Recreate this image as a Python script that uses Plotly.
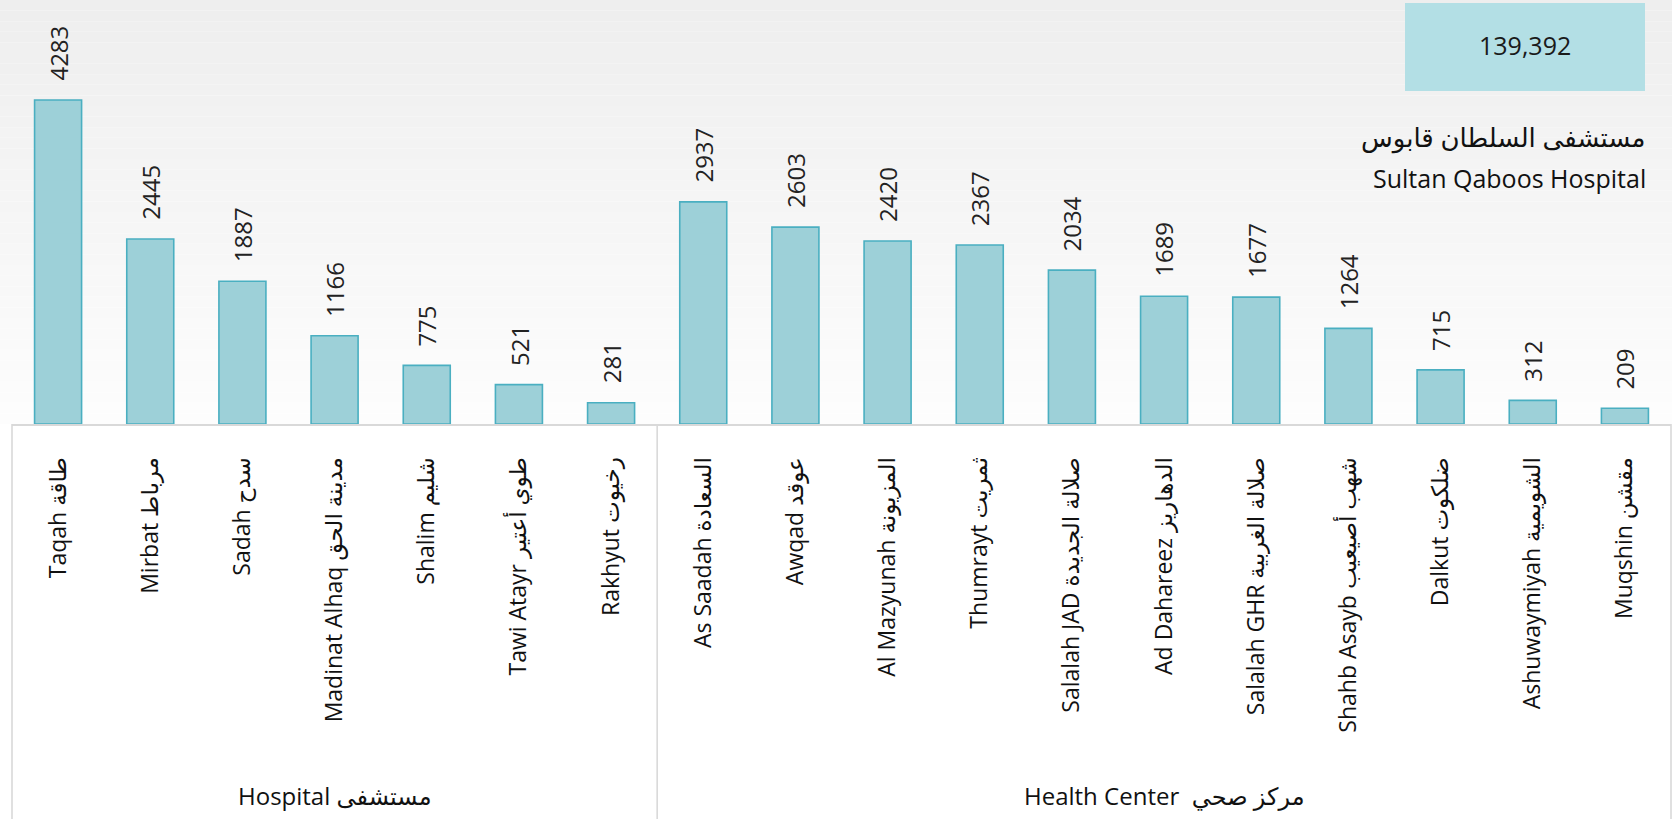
import plotly.graph_objects as go

# ---------------- data ----------------
hospital_en = ["Taqah", "Mirbat", "Sadah", "Madinat Alhaq", "Shalim", "Tawi Atayr", "Rakhyut"]
hospital_ar = ["طاقة", "مرباط", "سدح", "مدينة الحق", "شليم", "طوي أعتير", "رخيوت"]
hospital_values = [4283, 2445, 1887, 1166, 775, 521, 281]

center_en = ["As Saadah", "Awqad", "Al Mazyunah", "Thumrayt", "Salalah JAD", "Ad Dahareez",
             "Salalah GHR", "Shahb Asayb", "Dalkut", "Ashuwaymiyah", "Muqshin"]
center_ar = ["السعادة", "عوقد", "المزيونة", "ثمريت", "صلالة الجديدة", "الدهاريز",
             "صلالة الغربية", "شهب أصيعيب", "ضلكوت", "الشويمية", "مقشن"]
center_values = [2937, 2603, 2420, 2367, 2034, 1689, 1677, 1264, 715, 312, 209]

group_labels = ["Hospital مستشفى", "Health Center\u00a0\u00a0مركز صحي"]
total_value = 139392
title_ar = "مستشفى السلطان قابوس"
title_en = "Sultan Qaboos Hospital"

categories = [f"{e} {a}" for e, a in zip(hospital_en + center_en, hospital_ar + center_ar)]
values = hospital_values + center_values
n_h = len(hospital_values)
n_c = len(center_values)

# ---------------- layout constants ----------------
W, H = 1672, 819
ML, MR, MT, MB = 12, 1, 0, 395
PW = W - ML - MR
PH = H - MT - MB
YMAX = 5605
FONT = "Open Sans, DejaVu Sans, sans-serif"


def px_x(p):
    return (p - ML) / PW


def px_y(p):
    return (PH + MT - p) / PH


fig = go.Figure()
fig.add_trace(go.Bar(
    x=categories, y=values,
    marker=dict(color="#9dd0d8", line=dict(color="#4aafc1", width=1.6)),
    width=0.51,
    hoverinfo="x+y",
))

# value labels
annotations = []
for c, v in zip(categories, values):
    annotations.append(dict(
        x=c, y=v, xref="x", yref="y", text=str(v), showarrow=False,
        textangle=-90, yanchor="bottom", xanchor="center", yshift=17,
        font=dict(family=FONT, size=24, color="#222222"),
    ))

# group labels
annotations.append(dict(
    x=(n_h - 1) / 2, y=px_y(795), xref="x", yref="paper", text=group_labels[0],
    showarrow=False, yanchor="middle", xanchor="center",
    font=dict(family=FONT, size=24, color="#111111"),
))
annotations.append(dict(
    x=n_h + (n_c - 1) / 2, y=px_y(795), xref="x", yref="paper", text=group_labels[1],
    showarrow=False, yanchor="middle", xanchor="center",
    font=dict(family=FONT, size=24, color="#111111"),
))

# total box text and titles
annotations.append(dict(
    x=px_x(1525), y=px_y(45), xref="paper", yref="paper", text=f"{total_value:,}",
    showarrow=False, xanchor="center", yanchor="middle",
    font=dict(family=FONT, size=25, color="#1a1a1a"),
))
annotations.append(dict(
    x=px_x(1648), y=px_y(137), xref="paper", yref="paper", text=title_ar,
    showarrow=False, xanchor="right", yanchor="middle",
    font=dict(family=FONT, size=26, color="#111111"),
))
annotations.append(dict(
    x=px_x(1648), y=px_y(178), xref="paper", yref="paper", text=title_en,
    showarrow=False, xanchor="right", yanchor="middle",
    font=dict(family=FONT, size=25, color="#111111"),
))

shapes = []
# background gradient in plot area
N = 40
c0 = (238, 238, 238)
c1 = (253, 253, 253)
for i in range(N):
    t = i / (N - 1)
    col = tuple(round(c0[k] + (c1[k] - c0[k]) * t) for k in range(3))
    shapes.append(dict(
        type="rect", xref="paper", yref="paper",
        x0=px_x(0), x1=px_x(W), y0=1 - (i + 1) / N, y1=1 - i / N,
        fillcolor=f"rgb{col}", line=dict(width=0), layer="below",
    ))
# total box
shapes.append(dict(
    type="rect", xref="paper", yref="paper",
    x0=px_x(1405), x1=px_x(1645), y0=px_y(91), y1=px_y(3),
    fillcolor="#b3dfe5", line=dict(width=0), layer="below",
))
# category table lines
grid_col = "#d9d9d9"
for xx in (0, 1):
    shapes.append(dict(
        type="line", xref="paper", yref="paper", x0=xx, x1=xx, y0=0, y1=px_y(H + 5),
        line=dict(color=grid_col, width=1.6),
    ))
shapes.append(dict(
    type="line", xref="x", yref="paper", x0=n_h - 0.5, x1=n_h - 0.5, y0=0, y1=px_y(H + 5),
    line=dict(color=grid_col, width=1.6),
))

fig.update_layout(
    width=W, height=H,
    margin=dict(l=ML, r=MR, t=MT, b=MB, pad=0),
    paper_bgcolor="white",
    plot_bgcolor="rgba(0,0,0,0)",
    showlegend=False,
    bargap=0.49,
    annotations=annotations,
    shapes=shapes,
    xaxis=dict(
        type="category", range=[-0.5, len(categories) - 0.5],
        tickangle=-90, tickfont=dict(family=FONT, size=23, color="#111111"),
        showline=True, linecolor=grid_col, linewidth=2,
        showgrid=False, ticks="", ticklabelstandoff=22, fixedrange=True,
    ),
    yaxis=dict(
        range=[0, YMAX], visible=False, showgrid=False, zeroline=False, fixedrange=True,
    ),
)

fig.write_html(
    "out.html",
    config={"displayModeBar": False},
    post_script="document.body.style.margin='0';document.body.style.overflow='hidden';",
)
